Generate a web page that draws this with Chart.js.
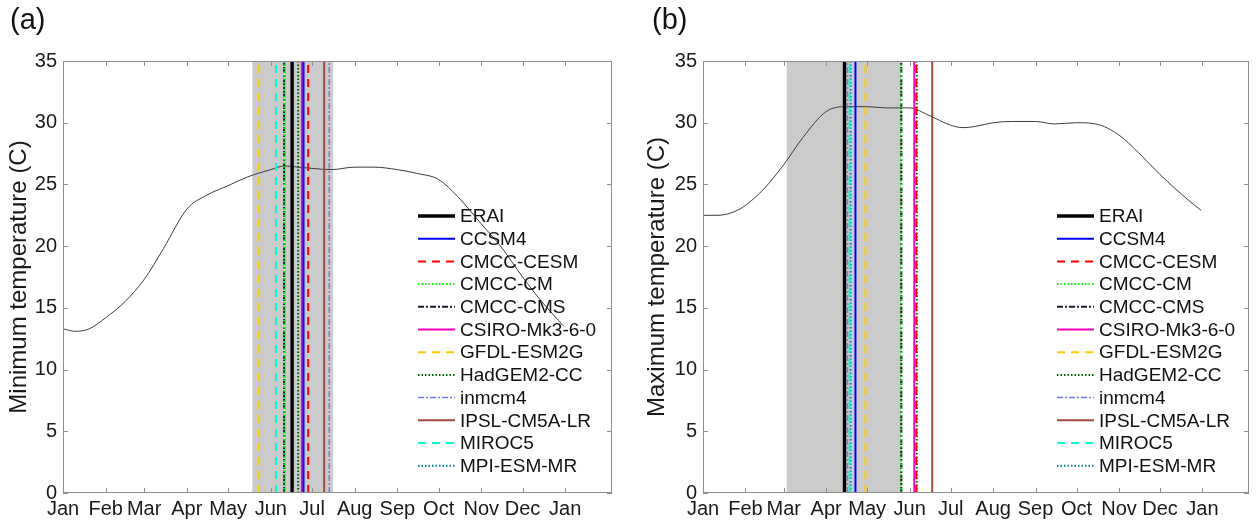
<!DOCTYPE html>
<html>
<head>
<meta charset="utf-8">
<title>Monsoon onset</title>
<script src="https://cdn.jsdelivr.net/npm/chart.js@4/dist/chart.umd.min.js"></script>
<style>
  html, body { margin: 0; padding: 0; background: #fff; }
  #wrap { position: relative; width: 1257px; height: 525px; overflow: hidden; }
  canvas { position: absolute; top: 0; }
  #chartA { left: 0; }
  #chartB { left: 628px; }
  .tag { position: absolute; top: 5px; font: 29px 'Liberation Sans', Arial, sans-serif; line-height: 1; color: #111; }
</style>
</head>
<body>
<div id="wrap">
  <canvas id="chartA" width="628" height="525"></canvas>
  <canvas id="chartB" width="629" height="525"></canvas>
  <div class="tag" style="left:10px">(a)</div>
  <div class="tag" style="left:652px">(b)</div>
</div>
<script>
// month ticks (day of year) and labels
const monthTicks = [1, 32, 60, 91, 121, 152, 182, 213, 244, 274, 305, 335, 366];
const monthLabels = ['Jan', 'Feb', 'Mar', 'Apr', 'May', 'Jun', 'Jul', 'Aug', 'Sep', 'Oct', 'Nov', 'Dec', 'Jan'];
const yTicks = [0, 5, 10, 15, 20, 25, 30, 35];

// ERAI climatology curves
const tminDays = [1, 10, 20, 32, 46, 60, 74, 91, 105, 121, 135, 152, 162, 172, 182, 196, 213, 227, 244, 258, 274, 288, 305, 319, 335, 349, 365];
const tminValues = [13.3, 13.1, 13.3, 14.2, 15.5, 17.3, 19.8, 23.0, 24.1, 24.9, 25.6, 26.2, 26.5, 26.4, 26.3, 26.2, 26.4, 26.4, 26.2, 25.9, 25.4, 24.0, 21.8, 20.0, 17.5, 15.5, 13.5];
const tmaxDays = [1, 12, 24, 32, 46, 60, 74, 91, 105, 121, 135, 152, 166, 182, 191, 200, 213, 227, 244, 258, 274, 288, 305, 319, 335, 356, 365];
const tmaxValues = [22.5, 22.5, 22.8, 23.3, 24.7, 26.6, 28.8, 30.9, 31.3, 31.3, 31.2, 31.2, 30.6, 29.8, 29.6, 29.7, 30.0, 30.1, 30.1, 29.9, 30.0, 29.9, 29.0, 27.6, 25.8, 23.7, 22.9];

// models and their day of year markers
const models = ['ERAI', 'CCSM4', 'CMCC-CESM', 'CMCC-CM', 'CMCC-CMS', 'CSIRO-Mk3-6-0', 'GFDL-ESM2G', 'HadGEM2-CC', 'inmcm4', 'IPSL-CM5A-LR', 'MIROC5', 'MPI-ESM-MR'];
const dayMin = [167.5, 175.8, 179.2, 161.7, 161.7, 174.6, 143.5, 171.9, 194.5, 190.8, 155.9, 161.9];
const dayMax = [104.4, 112.4, 156.9, 145.9, 145.9, 155.4, 119.7, 157.2, 106.6, 168.5, 108.1, 108.8];
const spreadMin = [138.5, 197.4];
const spreadMax = [62, 146];

const styles = [
  { color: '#000000', width: 3.4, dash: [] },
  { color: '#0000ff', width: 2, dash: [] },
  { color: '#ff0000', width: 2, dash: [8, 6] },
  { color: '#00ff00', width: 2, dash: [1.5, 2] },
  { color: '#1c1c30', width: 2, dash: [6, 2, 2, 2] },
  { color: '#ff00c0', width: 2, dash: [] },
  { color: '#ffcc00', width: 2, dash: [8, 6] },
  { color: '#006400', width: 2, dash: [1.5, 2] },
  { color: '#7878ff', width: 1.5, dash: [6, 2, 2, 2] },
  { color: '#a34a3a', width: 2, dash: [] },
  { color: '#00ffcc', width: 2, dash: [8, 6] },
  { color: '#00808a', width: 2, dash: [1.5, 2] }
];

Chart.defaults.font.family = "'Liberation Sans', Arial, sans-serif";
Chart.defaults.color = '#1a1a1a';

const matlabFrame = {
  id: 'matlabFrame',
  afterDatasetsDraw(chart) {
    const { ctx, chartArea: a, scales: { x, y } } = chart;
    ctx.save();
    ctx.strokeStyle = '#8c8c8c';
    ctx.lineWidth = 1;
    ctx.setLineDash([]);
    ctx.strokeRect(a.left + 0.5, a.top + 0.5, a.right - a.left - 1, a.bottom - a.top - 1);
    ctx.beginPath();
    monthTicks.forEach(v => {
      const px = Math.round(x.getPixelForValue(v)) + 0.5;
      ctx.moveTo(px, a.bottom); ctx.lineTo(px, a.bottom - 5);
      ctx.moveTo(px, a.top); ctx.lineTo(px, a.top + 5);
    });
    yTicks.forEach(v => {
      const py = Math.round(y.getPixelForValue(v)) + 0.5;
      ctx.moveTo(a.left, py); ctx.lineTo(a.left + 5, py);
      ctx.moveTo(a.right, py); ctx.lineTo(a.right - 5, py);
    });
    ctx.stroke();
    ctx.restore();
  },
  afterDraw(chart, args, opts) {
    const { ctx } = chart;
    ctx.save();
    ctx.font = "19px 'Liberation Sans', Arial, sans-serif";
    ctx.textBaseline = 'middle';
    let row = 0;
    chart.data.datasets.forEach(ds => {
      if (ds.noLegend) return;
      const yy = opts.y + row * opts.step;
      ctx.beginPath();
      ctx.strokeStyle = ds.borderColor;
      ctx.lineWidth = ds.borderWidth;
      ctx.setLineDash(ds.borderDash || []);
      ctx.moveTo(opts.x, yy);
      ctx.lineTo(opts.x + opts.len, yy);
      ctx.stroke();
      ctx.setLineDash([]);
      ctx.fillStyle = '#111';
      ctx.fillText(ds.label, opts.x + opts.len + 5, yy + 1);
      row++;
    });
    ctx.restore();
  }
};

function buildChart(id, days, values, markers, spread, yTitle, opts) {
  const datasets = models.map((name, i) => ({
    label: name,
    data: [{ x: markers[i], y: 0 }, { x: markers[i], y: 35 }],
    borderColor: styles[i].color,
    borderWidth: styles[i].width,
    borderDash: styles[i].dash,
    pointRadius: 0,
    fill: false
  }));
  datasets.push({
    label: 'ERAI curve',
    noLegend: true,
    data: days.map((d, i) => ({ x: d, y: values[i] })),
    borderColor: '#3c3c3c',
    borderWidth: 1,
    pointRadius: 0,
    cubicInterpolationMode: 'monotone',
    fill: false
  });
  datasets.push({
    label: 'spread',
    noLegend: true,
    data: [{ x: spread[0], y: 35 }, { x: spread[1], y: 35 }],
    borderWidth: 0,
    borderColor: 'rgba(0,0,0,0)',
    backgroundColor: '#cbcbcb',
    pointRadius: 0,
    fill: 'origin'
  });

  return new Chart(document.getElementById(id), {
    type: 'line',
    data: { datasets: datasets },
    options: {
      responsive: false,
      animation: false,
      layout: { padding: { top: 61, right: opts.padRight, bottom: 0, left: 0 } },
      plugins: {
        legend: { display: false },
        tooltip: { enabled: false },
        matlabFrame: opts.legend
      },
      scales: {
        x: {
          type: 'linear',
          min: 1,
          max: 400,
          afterBuildTicks: scale => { scale.ticks = monthTicks.map(v => ({ value: v })); },
          afterFit: scale => { scale.height = 32; },
          grid: { display: false, drawTicks: false },
          border: { display: false },
          ticks: {
            autoSkip: false,
            maxRotation: 0,
            padding: 4,
            font: { size: 20 },
            callback: (v, i) => monthLabels[i]
          }
        },
        y: {
          type: 'linear',
          min: 0,
          max: 35,
          afterFit: scale => { scale.width = opts.axisWidth; },
          grid: { display: false, drawTicks: false },
          border: { display: false },
          ticks: { stepSize: 5, padding: 6, font: { size: 20 } },
          title: {
            display: true,
            text: yTitle,
            font: { size: 24 },
            padding: { top: opts.titlePad, bottom: 0 }
          }
        }
      }
    },
    plugins: [matlabFrame]
  });
}

buildChart('chartA', tminDays, tminValues, dayMin, spreadMin, 'Minimum temperature (C)',
  { padRight: 16, axisWidth: 63, titlePad: 5, legend: { x: 418, y: 216, step: 22.7, len: 37 } });
buildChart('chartB', tmaxDays, tmaxValues, dayMax, spreadMax, 'Maximum temperature (C)',
  { padRight: 8, axisWidth: 75, titlePad: 15, legend: { x: 429, y: 216, step: 22.7, len: 37 } });
</script>
</body>
</html>
